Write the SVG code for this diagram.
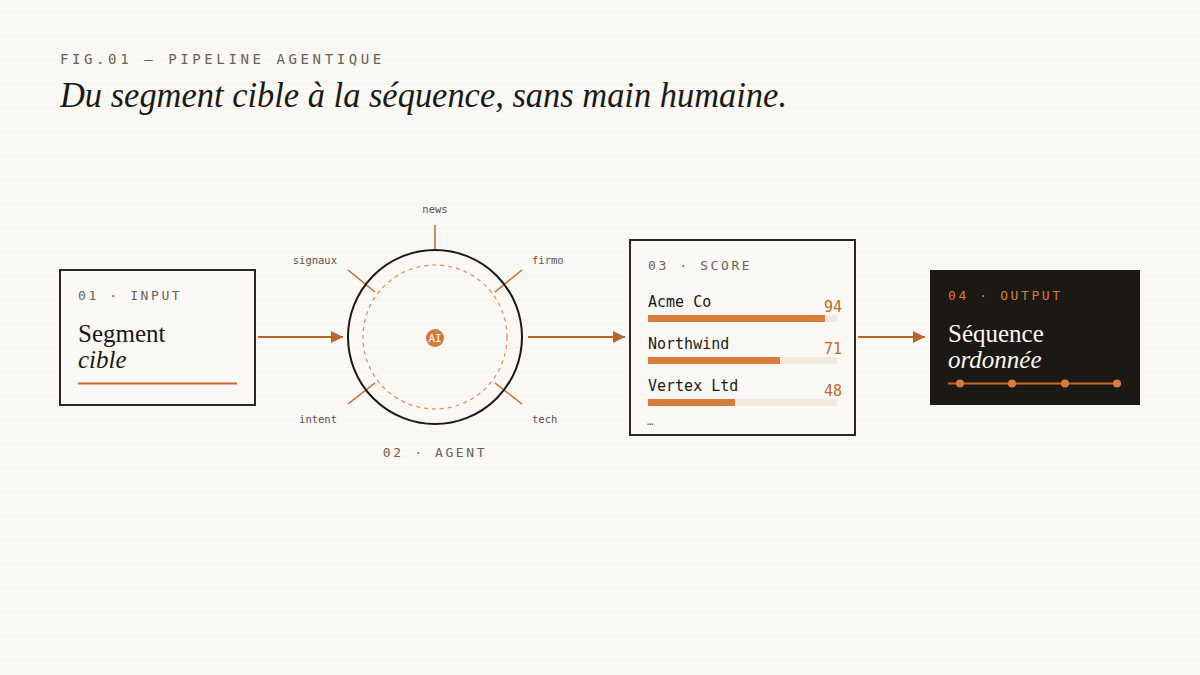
<svg xmlns="http://www.w3.org/2000/svg" width="1200" height="675" viewBox="0 0 1200 675">
<defs>
<pattern id="rules" x="0" y="11.5" width="1200" height="12" patternUnits="userSpaceOnUse">
<line x1="0" y1="0" x2="1200" y2="0" stroke="#eeebe3" stroke-width="1"/>
</pattern>
<marker id="arr" viewBox="0 0 12 12" refX="12" refY="6" markerWidth="12" markerHeight="12" markerUnits="userSpaceOnUse" orient="auto">
<path d="M0,0 L12,6 L0,12 Z" fill="#b8652a"/>
</marker>
<style>
.mono{font-family:"DejaVu Sans Mono","Liberation Mono",monospace}
.serif{font-family:"Liberation Serif","DejaVu Serif",serif}
.lab{font-size:13px;letter-spacing:2.6px;fill:#6b6257}
.spoke{stroke:#c0692a;stroke-width:1.5}
.spk{font-size:10.5px;fill:#5a5249}
.conn{stroke:#b8652a;stroke-width:2;fill:none}
.name{font-size:15px;fill:#1c1814}
.num{font-size:15px;fill:#c0692a}
.bg{fill:#f3eadf}
.bar{fill:#d97b3a}
</style>
</defs>
<rect width="1200" height="675" fill="#f9f8f4"/>
<rect width="1200" height="675" fill="url(#rules)"/>
<text x="60" y="64" class="mono" font-size="14" letter-spacing="3.6" fill="#6b6257">FIG.01 — PIPELINE AGENTIQUE</text>
<text x="60" y="107" class="serif" font-size="36" font-style="italic" fill="#1c1814" textLength="727" lengthAdjust="spacingAndGlyphs">Du segment cible à la séquence, sans main humaine.</text>

<g id="connectors">
<line x1="258" y1="337" x2="343" y2="337" class="conn" marker-end="url(#arr)"/>
<line x1="528" y1="337" x2="625" y2="337" class="conn" marker-end="url(#arr)"/>
<line x1="858" y1="337" x2="925" y2="337" class="conn" marker-end="url(#arr)"/>
</g>

<g id="node-input">
<rect x="60" y="270" width="195" height="135" fill="#f9f8f4" stroke="#2a2622" stroke-width="2"/>
<text x="78" y="300" class="mono lab">01 · INPUT</text>
<text x="78" y="342" class="serif" font-size="25" fill="#1c1814">Segment</text>
<text x="78" y="368" class="serif" font-size="25" font-style="italic" fill="#1c1814">cible</text>
<line x1="78" y1="383.5" x2="237" y2="383.5" stroke="#c0692a" stroke-width="2"/>
</g>

<g id="node-agent">
<line x1="435" y1="225" x2="435" y2="250" class="spoke"/>
<line x1="348" y1="270" x2="375" y2="292" class="spoke"/>
<line x1="522" y1="270" x2="495" y2="292" class="spoke"/>
<line x1="348" y1="404" x2="375" y2="383" class="spoke"/>
<line x1="522" y1="404" x2="495" y2="383" class="spoke"/>
<circle cx="435" cy="337" r="87" fill="none" stroke="#1c1814" stroke-width="2"/>
<circle cx="435" cy="337" r="72" fill="none" stroke="#d98a55" stroke-width="1.2" stroke-dasharray="4 4"/>
<circle cx="435" cy="338" r="9" fill="#d4783a"/>
<text x="435" y="342" class="mono" font-size="11" fill="#ffffff" text-anchor="middle">AI</text>
<text x="435" y="213" class="mono spk" text-anchor="middle">news</text>
<text x="337" y="264" class="mono spk" text-anchor="end">signaux</text>
<text x="532" y="264" class="mono spk">firmo</text>
<text x="337" y="423" class="mono spk" text-anchor="end">intent</text>
<text x="532" y="423" class="mono spk">tech</text>
<text x="435" y="457" class="mono lab" text-anchor="middle">02 · AGENT</text>
</g>

<g id="node-score">
<rect x="630" y="240" width="225" height="195" fill="#f9f8f4" stroke="#2a2622" stroke-width="2"/>
<text x="648" y="270" class="mono lab">03 · SCORE</text>
<text x="648" y="307" class="mono name">Acme Co</text>
<text x="842" y="312" class="mono num" text-anchor="end">94</text>
<rect x="648" y="315" width="189" height="7" class="bg"/>
<rect x="648" y="315" width="177" height="7" class="bar"/>
<text x="648" y="349" class="mono name">Northwind</text>
<text x="842" y="354" class="mono num" text-anchor="end">71</text>
<rect x="648" y="357" width="189" height="7" class="bg"/>
<rect x="648" y="357" width="132" height="7" class="bar"/>
<text x="648" y="391" class="mono name">Vertex Ltd</text>
<text x="842" y="396" class="mono num" text-anchor="end">48</text>
<rect x="648" y="399" width="189" height="7" class="bg"/>
<rect x="648" y="399" width="87" height="7" class="bar"/>
<text x="647" y="425" class="mono" font-size="11" fill="#6b6257">…</text>
</g>

<g id="node-output">
<rect x="930" y="270" width="210" height="135" fill="#1c1814"/>
<text x="948" y="300" class="mono lab" style="fill:#d97b3a">04 · OUTPUT</text>
<text x="948" y="342" class="serif" font-size="25" fill="#f9f8f4">Séquence</text>
<text x="948" y="368" class="serif" font-size="25" font-style="italic" fill="#f9f8f4">ordonnée</text>
<line x1="948" y1="383.5" x2="1121" y2="383.5" stroke="#c0692a" stroke-width="2"/>
<circle cx="960" cy="383.5" r="4" fill="#d97b3a"/>
<circle cx="1012" cy="383.5" r="4" fill="#d97b3a"/>
<circle cx="1065" cy="383.5" r="4" fill="#d97b3a"/>
<circle cx="1117" cy="383.5" r="4" fill="#d97b3a"/>
</g>
</svg>
